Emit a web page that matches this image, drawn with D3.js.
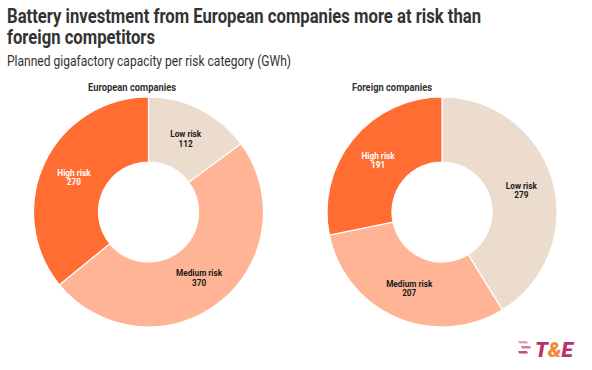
<!DOCTYPE html>
<html>
<head>
<meta charset="utf-8">
<script src="https://cdn.jsdelivr.net/npm/d3@7"></script>
<style>
  body { margin: 0; background: #fff; font-family: Roboto, "Noto Sans", sans-serif; }
  svg { display: block; }
</style>
</head>
<body>
<svg width="592" height="370"></svg>
<script>
// data
const categories = ["Low risk", "Medium risk", "High risk"];
const groups = ["European companies", "Foreign companies"];
const europeanValues = [112, 370, 270];
const foreignValues = [279, 207, 191];
const colors = ["#ecdcce", "#ffb595", "#ff6d33"];
const labelColors = ["#1a1a1a", "#1a1a1a", "#ffffff"];

const svg = d3.select("svg");

// titles (the original font is narrower than Roboto, so squeeze a bit)
function squeezed(x, y, size, weight, width, txt) {
  return svg.append("text").attr("x", x).attr("y", y)
    .attr("textLength", width).attr("lengthAdjust", "spacingAndGlyphs")
    .style("font-size", size + "px").style("font-weight", weight).attr("fill", "#333")
    .text(txt);
}
squeezed(7, 23, 19.5, 700, 474, "Battery investment from European companies more at risk than");
squeezed(7, 44, 19.5, 700, 148, "foreign competitors");
squeezed(7, 65.5, 14.5, 400, 284, "Planned gigafactory capacity per risk category (GWh)");

const color = d3.scaleOrdinal().domain(categories).range(colors);
const labelColor = d3.scaleOrdinal().domain(categories).range(labelColors);

const outer = 115, inner = 50;
const pie = d3.pie().sort(null).value(d => d.value);
const arc = d3.arc().innerRadius(inner).outerRadius(outer);

const panels = [
  {name: groups[0], values: europeanValues, cx: 148.5, titleX: 88, titleW: 88},
  {name: groups[1], values: foreignValues, cx: 442, titleX: 352, titleW: 80}
];

panels.forEach(function(p) {
  const data = categories.map((c, i) => ({name: c, value: p.values[i]}));

  svg.append("text")
    .attr("x", p.titleX).attr("y", 91)
    .attr("textLength", p.titleW).attr("lengthAdjust", "spacingAndGlyphs")
    .style("font-size", "10.5px").style("font-weight", 700).attr("fill", "#333")
    .text(p.name);

  const g = svg.append("g").attr("transform", "translate(" + p.cx + ",212)");

  g.selectAll("path")
    .data(pie(data))
    .enter().append("path")
    .attr("d", arc)
    .attr("fill", d => color(d.data.name))
    .attr("stroke", "#fff")
    .attr("stroke-width", 1.2);

  const lab = g.selectAll(".lab")
    .data(pie(data))
    .enter().append("text")
    .attr("class", "lab")
    .attr("transform", d => "translate(" + arc.centroid(d) + ") scale(0.87,1)")
    .attr("text-anchor", "middle")
    .style("font-size", "9.5px").style("font-weight", 700)
    .attr("fill", d => labelColor(d.data.name));
  lab.append("tspan").attr("x", 0).attr("dy", "-0.1em").text(d => d.data.name);
  lab.append("tspan").attr("x", 0).attr("dy", "1.0em").text(d => d.data.value);
});

// T&E logo
const logo = svg.append("g").attr("transform", "translate(518,341)");
[0, 5, 10].forEach(function(y, i) {
  logo.append("path")
    .attr("d", "M" + (i === 1 ? 3 : 0) + "," + y + " h9 l1,2.5 h-9 z")
    .attr("fill", i === 0 ? "#e4a0bb" : (i === 1 ? "#d87aa0" : "#c34f80"));
});
const lt = logo.append("text").attr("x", 17).attr("y", 15.5)
  .style("font-size", "21px").style("font-weight", 900).style("font-style", "italic");
lt.append("tspan").attr("fill", "#b8336a").text("T");
lt.append("tspan").attr("fill", "#f08a3c").text("&");
lt.append("tspan").attr("fill", "#b8336a").text("E");
</script>
</body>
</html>
